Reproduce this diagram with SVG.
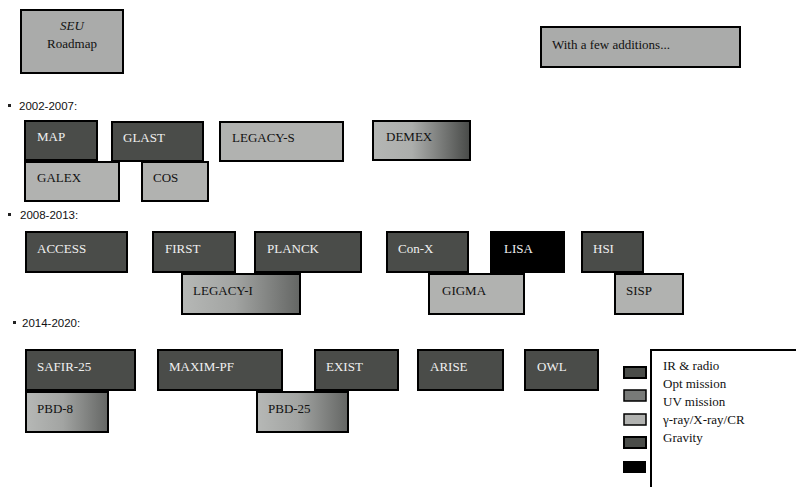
<svg xmlns="http://www.w3.org/2000/svg" width="796" height="487" viewBox="0 0 796 487">
<defs>
<linearGradient id="gOpt" x1="0" y1="0" x2="1" y2="0">
<stop offset="0" stop-color="#b6b8b6"/>
<stop offset="0.45" stop-color="#a2a4a2"/>
<stop offset="1" stop-color="#646664"/>
</linearGradient>
<linearGradient id="gDemex" x1="0" y1="0" x2="1" y2="0">
<stop offset="0" stop-color="#b4b6b4"/>
<stop offset="0.4" stop-color="#acaeac"/>
<stop offset="1" stop-color="#484a48"/>
</linearGradient>
<style>
.b{stroke:#000;stroke-width:2}
.d{fill:#4a4c49}
.l{fill:#b1b2b0}
.k{fill:#000}
.t{font-family:"Liberation Serif","Times New Roman",serif;font-size:13px}
.w{fill:#f0f0f0}
.n{fill:#111}
.h{font-family:"Liberation Sans",Arial,sans-serif;font-size:11.5px;fill:#111}
.bul{fill:#222}
</style>
</defs>
<rect width="796" height="487" fill="#fff"/>

<g id="title">
<rect class="b" x="21" y="10" width="102" height="63" fill="#aaabaa"/>
<text class="t n" x="72" y="30" text-anchor="middle" font-style="italic">SEU</text>
<text class="t n" x="72" y="48" text-anchor="middle">Roadmap</text>
</g>
<g id="additions">
<rect class="b" x="541" y="27" width="199" height="40" fill="#aaabaa"/>
<text class="t n" x="552" y="49">With a few additions...</text>
</g>

<g id="headers">
<rect class="bul" x="8" y="104" width="3" height="3"/>
<text class="h" x="19" y="110">2002-2007:</text>
<rect class="bul" x="8" y="213" width="3" height="3"/>
<text class="h" x="20" y="219">2008-2013:</text>
<rect class="bul" x="13" y="321" width="3" height="3"/>
<text class="h" x="22" y="327">2014-2020:</text>
</g>

<g id="MAP"><rect class="b d" x="25" y="121" width="72" height="39"/><text class="t w" x="37" y="141">MAP</text></g>
<g id="GLAST"><rect class="b d" x="112" y="122" width="91" height="39"/><text class="t w" x="123" y="142">GLAST</text></g>
<g id="LEGACY-S"><rect class="b l" x="220" y="122" width="123" height="39"/><text class="t n" x="232" y="142">LEGACY-S</text></g>
<g id="DEMEX"><rect class="b" x="373" y="121" width="97" height="39" fill="url(#gDemex)"/><text class="t n" x="386" y="141">DEMEX</text></g>
<g id="GALEX"><rect class="b l" x="25" y="162" width="94" height="39"/><text class="t n" x="37" y="182">GALEX</text></g>
<g id="COS"><rect class="b l" x="142" y="162" width="66" height="39"/><text class="t n" x="153" y="182">COS</text></g>

<g id="ACCESS"><rect class="b d" x="26" y="232" width="101" height="40"/><text class="t w" x="37" y="253">ACCESS</text></g>
<g id="FIRST"><rect class="b d" x="153" y="232" width="82" height="40"/><text class="t w" x="165" y="253">FIRST</text></g>
<g id="PLANCK"><rect class="b d" x="255" y="232" width="106" height="40"/><text class="t w" x="267" y="253">PLANCK</text></g>
<g id="Con-X"><rect class="b d" x="387" y="232" width="81" height="40"/><text class="t w" x="398" y="253">Con-X</text></g>
<g id="LISA"><rect class="b k" x="491" y="232" width="73" height="40"/><text class="t w" x="504" y="253">LISA</text></g>
<g id="HSI"><rect class="b d" x="582" y="232" width="61" height="40"/><text class="t w" x="593" y="253">HSI</text></g>
<g id="LEGACY-I"><rect class="b" x="182" y="274" width="118" height="40" fill="url(#gOpt)"/><text class="t n" x="193" y="295">LEGACY-I</text></g>
<g id="GIGMA"><rect class="b l" x="429" y="274" width="95" height="40"/><text class="t n" x="442" y="295">GIGMA</text></g>
<g id="SISP"><rect class="b l" x="615" y="274" width="68" height="40"/><text class="t n" x="626" y="295">SISP</text></g>

<g id="SAFIR-25"><rect class="b d" x="26" y="350" width="109" height="40"/><text class="t w" x="37" y="371">SAFIR-25</text></g>
<g id="MAXIM-PF"><rect class="b d" x="158" y="350" width="124" height="40"/><text class="t w" x="169" y="371">MAXIM-PF</text></g>
<g id="EXIST"><rect class="b d" x="315" y="350" width="83" height="40"/><text class="t w" x="326" y="371">EXIST</text></g>
<g id="ARISE"><rect class="b d" x="418" y="350" width="85" height="40"/><text class="t w" x="430" y="371">ARISE</text></g>
<g id="OWL"><rect class="b d" x="525" y="350" width="73" height="40"/><text class="t w" x="537" y="371">OWL</text></g>
<g id="PBD-8"><rect class="b" x="26" y="392" width="82" height="40" fill="url(#gOpt)"/><text class="t n" x="37" y="413">PBD-8</text></g>
<g id="PBD-25"><rect class="b" x="257" y="392" width="91" height="40" fill="url(#gOpt)"/><text class="t n" x="268" y="413">PBD-25</text></g>

<g id="legend">
<path d="M651,488 V350 H797" fill="none" stroke="#000" stroke-width="2"/>
<rect class="b d" x="624" y="367" width="22" height="11" stroke-width="1.5"/>
<rect x="624" y="390" width="22" height="11" fill="#787a78" stroke="#000" stroke-width="1.5"/>
<rect class="l" x="624" y="414" width="22" height="11" stroke="#000" stroke-width="1.5"/>
<rect class="b d" x="624" y="437" width="22" height="11" stroke-width="1.5"/>
<rect class="k" x="623" y="461" width="23" height="12"/>
<text class="t n" x="663" y="370">IR &amp; radio</text>
<text class="t n" x="663" y="388">Opt mission</text>
<text class="t n" x="663" y="406">UV mission</text>
<text class="t n" x="663" y="424">γ-ray/X-ray/CR</text>
<text class="t n" x="663" y="442">Gravity</text>
</g>
</svg>
